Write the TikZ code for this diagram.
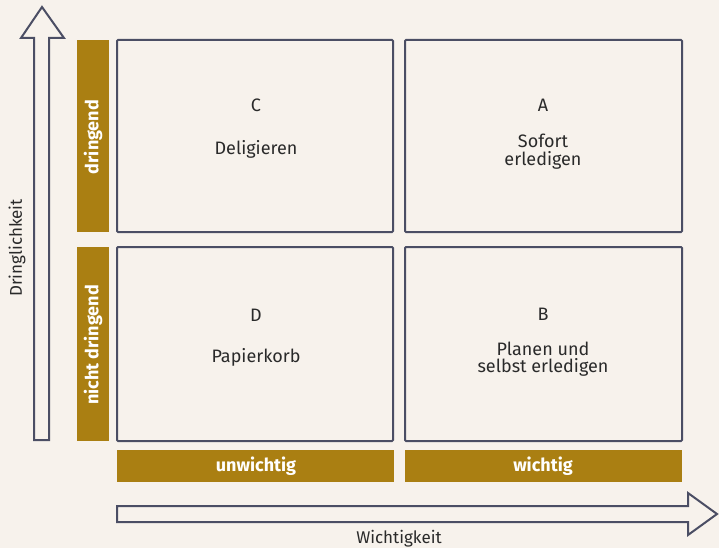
\documentclass[tikz,border=0pt]{standalone}
\usepackage{fontspec}
\setmainfont{Fira Sans}
\begin{document}
\definecolor{paper}{HTML}{F7F2EC}
\definecolor{frame}{HTML}{4B4E64}
\definecolor{gold}{HTML}{AA7F12}
\definecolor{ink}{HTML}{2A2A2A}
\begin{tikzpicture}[x=1pt,y=-1pt,
  cell/.style={draw=frame,line width=2pt,rounded corners=1pt,fill=paper},
  band/.style={fill=gold},
  bandtext/.style={text=white,font=\fontsize{18}{18}\selectfont\bfseries,inner sep=0pt},
  celltext/.style={text=ink,font=\fontsize{18}{18}\selectfont,inner sep=0pt,align=center},
  axis/.style={draw=frame,line width=2pt,fill=paper,line join=miter},
  axistext/.style={text=ink,font=\fontsize{17}{17}\selectfont,inner sep=0pt}]
\fill[paper] (0,0) rectangle (719,548);
\useasboundingbox (0,0) rectangle (719,548);

% vertical axis arrow (urgency)
\draw[axis] (34,440) -- (34,38) -- (21,38) -- (42,7) -- (64,38) -- (49,38) -- (49,440) -- cycle;
% horizontal axis arrow (importance)
\draw[axis] (117,506) -- (688,506) -- (688,493) -- (717,514) -- (688,535) -- (688,522) -- (117,522) -- cycle;

% quadrant cells
\draw[cell] (117,40) rectangle (393,232);
\draw[cell] (405,40) rectangle (682,232);
\draw[cell] (117,247) rectangle (393,441);
\draw[cell] (405,247) rectangle (682,441);

% side bands
\fill[band] (77,40) rectangle (109,232);
\fill[band] (77,247) rectangle (109,441);
\fill[band] (117,450) rectangle (394,482);
\fill[band] (405,450) rectangle (682,482);

% band labels
\node[bandtext,rotate=90] (dr) at (93,137) {dringend};
\node[bandtext,rotate=90] (ndr) at (93,345) {nicht dringend};
\node[bandtext] (uw) at (256,466) {unwichtig};
\node[bandtext] (w) at (543,466) {wichtig};

% axis labels
\node[axistext,rotate=90] (yl) at (17,248) {Dringlichkeit};
\node[axistext,anchor=base] (xl) at (399,543) {Wichtigkeit};

% cell contents
\node[celltext,anchor=base] (c) at (256,112) {C};
\node[celltext,anchor=base] (cd) at (256,155) {Deligieren};
\node[celltext,anchor=base] (a) at (543,112) {A};
\node[celltext,anchor=base] (a1) at (543,148) {Sofort};
\node[celltext,anchor=base] (a2) at (543,165) {erledigen};
\node[celltext,anchor=base] (d) at (256,321) {D};
\node[celltext,anchor=base] (dd) at (256,362) {Papierkorb};
\node[celltext,anchor=base] (b) at (543,320) {B};
\node[celltext,anchor=base] (b1) at (543,355) {Planen und};
\node[celltext,anchor=base] (b2) at (543,372) {selbst erledigen};
\end{tikzpicture}
\end{document}
